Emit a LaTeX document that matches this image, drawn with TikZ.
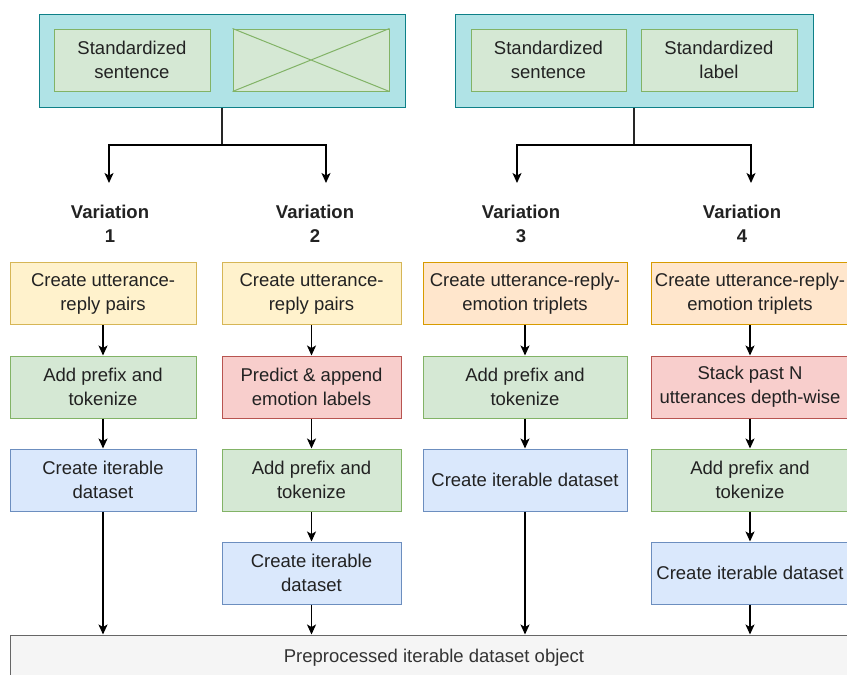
\documentclass[tikz,border=0pt]{standalone}
\usepackage{fontspec}
\setmainfont{Liberation Sans}
\usetikzlibrary{arrows.meta}

\definecolor{tealfill}{HTML}{B0E3E6}
\definecolor{tealline}{HTML}{0E8088}
\definecolor{gfill}{HTML}{D5E8D4}
\definecolor{gline}{HTML}{82B366}
\definecolor{yfill}{HTML}{FFF2CC}
\definecolor{yline}{HTML}{D6B656}
\definecolor{ofill}{HTML}{FFE6CC}
\definecolor{oline}{HTML}{D79B00}
\definecolor{rfill}{HTML}{F8CECC}
\definecolor{rline}{HTML}{B85450}
\definecolor{bfill}{HTML}{DAE8FC}
\definecolor{bline}{HTML}{6C8EBF}
\definecolor{greyfill}{HTML}{F5F5F5}
\definecolor{greyline}{HTML}{666666}
\definecolor{greytext}{HTML}{333333}
\definecolor{txt}{HTML}{222222}

\tikzset{
  basefont/.style={font=\fontsize{18.5}{24}\selectfont},
  procbox/.style={rectangle, draw, line width=1pt, minimum height=62pt,
    inner sep=2pt, align=center, text=txt, basefont},
  greenbox/.style={procbox, fill=gfill, draw=gline},
  yellowbox/.style={procbox, fill=yfill, draw=yline},
  orangebox/.style={procbox, fill=ofill, draw=oline},
  redbox/.style={procbox, fill=rfill, draw=rline},
  bluebox/.style={procbox, fill=bfill, draw=bline},
  groupbox/.style={rectangle, draw=tealline, fill=tealfill, line width=1pt,
    minimum width=#1, minimum height=93pt, inner sep=0pt},
  varlabel/.style={align=center, text=txt, inner xsep=2pt, inner ysep=9pt,
    font=\fontsize{18.5}{24}\selectfont\bfseries},
  arr/.style={draw=black, line width=1.3pt,
    -{Stealth[length=10pt, width=9pt, inset=2.5pt]}},
  stem/.style={draw=black!85, line width=1.8pt},
}

\begin{document}
\begin{tikzpicture}[x=1pt, y=-1pt]
\clip (0,0) rectangle (847,675);
\fill[white] (0,0) rectangle (847,675);

% ---- input groups ----
\node[groupbox=366pt] (g1) at (222,60.5) {};
\node[greenbox, minimum width=156pt] (s1) at (132,60) {Standardized\\sentence};
\node[greenbox, minimum width=156pt] (x1) at (311,60) {};
\draw[gline, line width=1pt] (x1.north west) -- (x1.south east)
                             (x1.south west) -- (x1.north east);

\node[groupbox=358pt] (g2) at (634,60.5) {};
\node[greenbox, minimum width=155pt] (s2) at (548.5,60) {Standardized\\sentence};
\node[greenbox, minimum width=156pt] (l2) at (719,60) {Standardized\\label};

% ---- branch points ----
\coordinate (j1) at (222,145);
\coordinate (j2) at (634,145);
\coordinate (a1) at (109,183);
\coordinate (a2) at (326,183);
\coordinate (a3) at (517,183);
\coordinate (a4) at (751,183);

\draw[stem] (g1.south) -- (j1);
\draw[stem] (g2.south) -- (j2);
\draw[arr] (j1) -| (a1);
\draw[arr] (j1) -| (a2);
\draw[arr] (j2) -| (a3);
\draw[arr] (j2) -| (a4);

% ---- variation labels ----
\node[varlabel] (v1) at (110,224) {Variation\\1};
\node[varlabel] (v2) at (315,224) {Variation\\2};
\node[varlabel] (v3) at (521,224) {Variation\\3};
\node[varlabel] (v4) at (742,224) {Variation\\4};

% ---- variation 1 ----
\node[yellowbox, minimum width=186pt] (c1a) at (103,293.5) {Create utterance-\\reply pairs};
\node[greenbox,  minimum width=186pt] (c1b) at (103,387) {Add prefix and\\tokenize};
\node[bluebox,   minimum width=186pt] (c1c) at (103,480) {Create iterable\\dataset};

% ---- variation 2 ----
\node[yellowbox, minimum width=179pt] (c2a) at (311.5,293.5) {Create utterance-\\reply pairs};
\node[redbox,    minimum width=179pt] (c2b) at (311.5,387) {Predict \& append\\emotion labels};
\node[greenbox,  minimum width=179pt] (c2c) at (311.5,480) {Add prefix and\\tokenize};
\node[bluebox,   minimum width=179pt] (c2d) at (311.5,573) {Create iterable\\dataset};

% ---- variation 3 ----
\node[orangebox, minimum width=204pt] (c3a) at (525,293.5) {Create utterance-reply-\\emotion triplets};
\node[greenbox,  minimum width=204pt] (c3b) at (525,387) {Add prefix and\\tokenize};
\node[bluebox,   minimum width=204pt] (c3c) at (525,480) {Create iterable dataset};

% ---- variation 4 ----
\node[orangebox, minimum width=198pt] (c4a) at (750,293.5) {Create utterance-reply-\\emotion triplets};
\node[redbox,    minimum width=198pt] (c4b) at (750,387) {Stack past N\\utterances depth-wise};
\node[greenbox,  minimum width=198pt] (c4c) at (750,480) {Add prefix and\\tokenize};
\node[bluebox,   minimum width=198pt] (c4d) at (750,573) {Create iterable dataset};

% ---- output ----
\node[rectangle, draw=greyline, fill=greyfill, line width=1pt,
      minimum width=847pt, minimum height=50pt, text=greytext, basefont,
      text depth=0pt] (out) at (433.5,660) {};
\node[text=greytext, basefont] (outlabel) at (434,658) {Preprocessed iterable dataset object};

% ---- flow arrows ----
\draw[arr] (c1a) -- (c1b);
\draw[arr] (c1b) -- (c1c);
\draw[arr] (c1c) -- (c1c |- out.north);

\draw[arr] (c2a) -- (c2b);
\draw[arr] (c2b) -- (c2c);
\draw[arr] (c2c) -- (c2d);
\draw[arr] (c2d) -- (c2d |- out.north);

\draw[arr] (c3a) -- (c3b);
\draw[arr] (c3b) -- (c3c);
\draw[arr] (c3c) -- (c3c |- out.north);

\draw[arr] (c4a) -- (c4b);
\draw[arr] (c4b) -- (c4c);
\draw[arr] (c4c) -- (c4d);
\draw[arr] (c4d) -- (c4d |- out.north);
\end{tikzpicture}
\end{document}
